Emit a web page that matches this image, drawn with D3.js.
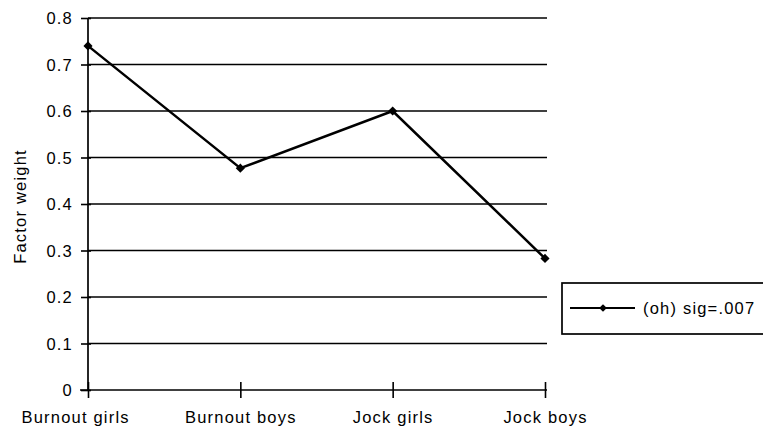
<!DOCTYPE html>
<html><head><meta charset="utf-8">
<script src="https://cdn.jsdelivr.net/npm/d3@7"></script>
<style>body{margin:0;background:#fff;} svg{display:block;} text{font-family:Arial, "Liberation Sans", sans-serif;fill:#000;}</style>
</head><body>
<svg id="c" width="763" height="432"></svg>
<script>
const categories = ["Burnout girls","Burnout boys","Jock girls","Jock boys"];
const values = [0.74, 0.477, 0.60, 0.283];
const yTicks = [0,0.1,0.2,0.3,0.4,0.5,0.6,0.7,0.8];
const seriesName = "(oh) sig=.007";
const yTitle = "Factor weight";

const FS = 16.5, LS = 1.2;
const svg = d3.select("#c");
const x = d3.scalePoint().domain(categories).range([88, 545]);
const y = d3.scaleLinear().domain([0, 0.8]).range([390, 18]);

// gridlines
svg.append("g").selectAll("line").data(yTicks.filter(d=>d>0)).join("line")
  .attr("x1", 88).attr("x2", 547).attr("y1", d=>y(d)).attr("y2", d=>y(d))
  .attr("stroke", "#000").attr("stroke-width", 1.7);

function styleText(sel){
  sel.attr("font-size",FS).attr("font-family","Arial, 'Liberation Sans', sans-serif")
     .attr("fill","#000").style("letter-spacing", LS+"px");
}

// y axis
const yAxis = d3.axisLeft(y).tickValues(yTicks).tickFormat(d => d===0 ? "0" : d3.format(".1f")(d)).tickSize(7).tickPadding(8);
const gy = svg.append("g").attr("transform","translate(88,0)").call(yAxis);
gy.select(".domain").attr("stroke","#000").attr("stroke-width",1.7).attr("d","M0,18V390");
gy.selectAll(".tick line").attr("stroke","#000").attr("stroke-width",1.6).attr("x2",3).attr("x1",-7);
styleText(gy.selectAll(".tick text"));
gy.selectAll(".tick text").attr("dy","0.36em");

// x axis
const xAxis = d3.axisBottom(x).tickSize(8).tickPadding(13);
const gx = svg.append("g").attr("transform","translate(0,390)").call(xAxis);
gx.select(".domain").attr("stroke","#000").attr("stroke-width",1.7).attr("d","M80,0H547");
gx.selectAll(".tick line").attr("stroke","#000").attr("stroke-width",1.6).attr("y1",-8).attr("y2",8);
styleText(gx.selectAll(".tick text"));
gx.selectAll(".tick text").filter((d,i)=>i===0).attr("text-anchor","start").attr("x",-67);

// y title
const yt = svg.append("text").attr("transform","translate(26,206.5) rotate(-90)")
  .attr("text-anchor","middle").text(yTitle);
styleText(yt);

// line
const pts = categories.map((c,i)=>({c, v: values[i]}));
svg.append("path").datum(pts)
  .attr("d", d3.line().x(d=>x(d.c)).y(d=>y(d.v)))
  .attr("fill","none").attr("stroke","#000").attr("stroke-width",2.5);
const diamond = d3.symbol().type(d3.symbolSquare).size(42);
svg.append("g").selectAll("path").data(pts).join("path")
  .attr("d", diamond).attr("transform", d=>`translate(${x(d.c)},${y(d.v)}) rotate(45)`).attr("fill","#000");

// legend
const lg = svg.append("g");
lg.append("rect").attr("x",562).attr("y",283).attr("width",210).attr("height",51)
  .attr("fill","#fff").attr("stroke","#000").attr("stroke-width",1.7);
lg.append("line").attr("x1",570).attr("x2",635).attr("y1",308).attr("y2",308).attr("stroke","#000").attr("stroke-width",2.2);
lg.append("path").attr("d", d3.symbol().type(d3.symbolSquare).size(30)).attr("transform","translate(603,308) rotate(45)").attr("fill","#000");
const lt = lg.append("text").attr("x",643).attr("y",314).text(seriesName);
styleText(lt);
</script>
</body></html>
